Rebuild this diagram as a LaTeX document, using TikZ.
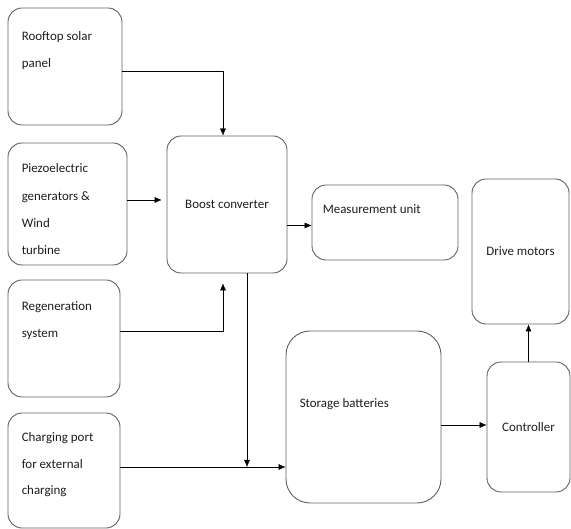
\documentclass[tikz,border=0pt]{standalone}
\usepackage{fontspec}
\setmainfont{Carlito}
\usetikzlibrary{arrows.meta}
\definecolor{boxline}{RGB}{95,95,95}
\definecolor{txt}{RGB}{30,30,30}
\tikzset{
  blk/.style={draw=boxline,line width=0.9bp,rounded corners=14bp,inner sep=0pt},
  tl/.style={anchor=north west,align=left,inner sep=0pt,text=txt,xshift=14bp,yshift=-20bp},
}
\begin{document}
\begin{tikzpicture}[>={Latex[length=7bp,width=6bp]},line join=bevel,font=\fontsize{13}{26.5}\selectfont]
%%
\useasboundingbox (0bp,0bp) rectangle (571bp,529bp);
\node (rooftop) at (65bp,462.5bp) [blk,minimum width=114bp,minimum height=117bp,label={[tl,yshift=-4bp]north west:{Rooftop solar\\panel}}] {};
  \node (piezo) at (67.5bp,325bp) [blk,minimum width=119bp,minimum height=122bp,label={[tl,yshift=-1bp,font=\fontsize{13}{27.5}\selectfont]north west:{Piezoelectric\\generators \&\\Wind\\turbine}}] {};
  \node (regen) at (64bp,190.5bp) [blk,minimum width=112bp,minimum height=117bp,label={[tl,yshift=-2bp]north west:{Regeneration\\system}}] {};
  \node (charging) at (64bp,58.5bp) [blk,minimum width=112bp,minimum height=115bp,label={[tl]north west:{Charging port\\for external\\charging}}] {};
  \node (boost) at (227bp,324.5bp) [blk,minimum width=120bp,minimum height=137bp,text=txt] {Boost converter};
  \node (meas) at (385bp,306.5bp) [blk,minimum width=146bp,minimum height=75bp,label={[tl,xshift=-3bp]north west:{Measurement unit}}] {};
  \node (drive) at (520.5bp,277.5bp) [blk,minimum width=97bp,minimum height=145bp,text=txt] {Drive motors};
  \node (storage) at (363.5bp,112bp) [blk,rounded corners=24bp,minimum width=155bp,minimum height=172bp,label={[tl,yshift=-48bp]north west:{Storage batteries}}] {};
  \node (ctrl) at (528.5bp,102bp) [blk,minimum width=83bp,minimum height=130bp,text=txt] {Controller};
  \coordinate (junc) at (247bp,62bp);
  \draw [black,->] ([yshift=-5bp]rooftop.east) -| ([xshift=-4bp]boost.north);
  \draw [black,->,shorten >=5bp] ([yshift=4bp]piezo.east) -- ([yshift=4bp]piezo.east -| boost.west);
  \draw [black,->] ([yshift=-3bp]meas.west -| boost.east) -- ([yshift=-3bp]meas.west);
  \draw [black,->,shorten >=10bp] ([yshift=7bp]regen.east) -| ([xshift=-4bp]boost.south);
  \draw [black,->] ([xshift=20bp]boost.south) -- (junc);
  \draw [black,->] (charging.east |- junc) -- (junc -| storage.west);
  \draw [black,->] ([yshift=2bp]ctrl.west -| storage.east) -- ([yshift=2bp]ctrl.west);
  \draw [black,->] (ctrl.north) -- (ctrl.north |- drive.south);
%
\end{tikzpicture}
\end{document}
